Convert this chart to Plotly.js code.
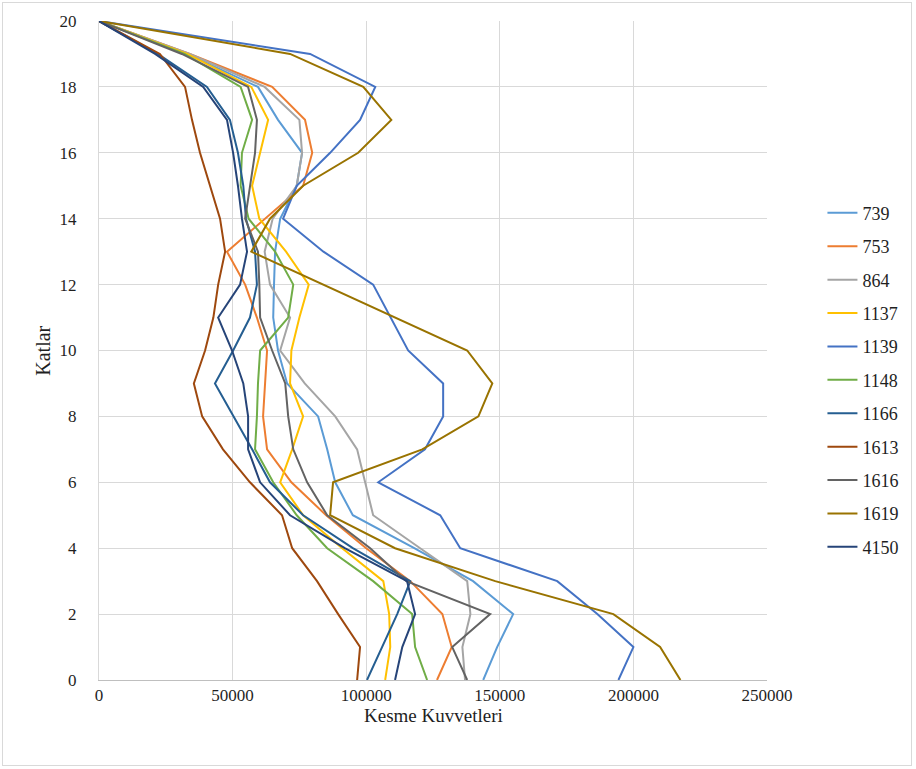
<!DOCTYPE html>
<html>
<head>
<meta charset="utf-8">
<script src="https://cdn.plot.ly/plotly-3.0.1.min.js"></script>
<style>
  html, body { margin: 0; padding: 0; background: #fff; }
  #wrap { position: relative; width: 916px; height: 769px; }
  #chart { width: 916px; height: 769px; }
  #frame { position: absolute; left: 2px; top: 2px; width: 908px; height: 762px; border: 1px solid #d9d9d9; pointer-events: none; }
</style>
</head>
<body>
<div id="wrap"><div id="chart"></div><div id="frame"></div></div>
<script>
// Floors (Katlar) 0..20
const floors = [0,1,2,3,4,5,6,7,8,9,10,11,12,13,14,15,16,17,18,19,20];

// Series names (legend)
const seriesNames = ["739","753","864","1137","1139","1148","1166","1613","1616","1619","4150"];

// Shear forces per floor (index = floor 0..20)
const s739  = [143800,149000,155000,140000,118000,95000,88400,85400,82000,70400,67000,65200,65500,65900,67800,74000,76000,67000,59500,33000,0];
const s753  = [126500,132000,128500,116500,100000,85000,72000,62900,61400,62200,62900,59100,54700,47900,62000,76400,79800,77100,64800,34000,0];
const s864  = [137000,136000,139000,137800,120200,102600,99600,96600,88400,77000,67800,71500,64000,62000,65000,74000,76000,75000,62000,34000,0];
const s1137 = [107100,109000,108600,106400,91000,76400,67800,72300,76400,71500,72000,75000,78500,70000,60000,57300,60300,63300,57000,33000,0];
const s1139 = [194400,200000,186500,171500,135200,127700,104500,122000,128800,128800,115700,109000,102600,84000,68900,74000,86500,97700,103400,79000,0];
const s1148 = [122800,118300,117200,102600,85400,74000,65200,58400,59100,59500,60300,70800,72700,65900,56000,53000,53500,57300,53000,32000,0];
const s1166 = [100300,106000,111600,116500,95000,76400,64000,57300,50500,43400,50200,56500,59100,58400,55000,54000,52000,49000,40400,22000,0];
const s1613 = [96600,97700,89500,81600,72300,68500,56500,46400,38600,35500,39700,42800,44600,47200,45300,41600,37800,34800,32200,22800,0];
const s1616 = [137800,132200,146400,115000,101500,85400,77900,72700,70800,69700,64800,60300,60000,59500,54700,56500,58400,59100,55800,31000,0];
const s1619 = [217600,210000,192500,148300,110800,86500,87600,121000,142000,147200,137800,110900,84000,57000,64000,76400,97000,109400,98900,71500,0];
const s4150 = [110800,113500,118300,115300,92000,71500,60300,55800,55800,54000,49800,44600,52800,55400,53500,52000,50200,47900,39000,21000,0];

const seriesValues = [s739,s753,s864,s1137,s1139,s1148,s1166,s1613,s1616,s1619,s4150];
const seriesColors = ["#5B9BD5","#ED7D31","#A5A5A5","#FFC000","#4472C4","#70AD47","#255E91","#9E480E","#636363","#997300","#264478"];

const xTicks = [0,50000,100000,150000,200000,250000];
const yTicks = [0,2,4,6,8,10,12,14,16,18,20];

const xTitle = "Kesme Kuvvetleri";
const yTitle = "Katlar";

const font = "Liberation Serif";

const traces = seriesNames.map((name, i) => ({
  type: "scatter",
  mode: "lines",
  name: name,
  legendgroup: "g" + i,
  x: seriesValues[i],
  y: floors,
  line: { color: seriesColors[i], width: 2 },
  hoverinfo: "x+y+name"
}));

const layout = {
  width: 916,
  height: 769,
  margin: { l: 99, r: 149, t: 21, b: 89 },
  paper_bgcolor: "#ffffff",
  plot_bgcolor: "#ffffff",
  font: { family: font, size: 18, color: "#1f1f1f" },
  showlegend: true,
  legend: {
    x: 1.083, xanchor: "left",
    y: 0.455, yanchor: "middle",
    traceorder: "grouped",
    tracegroupgap: 7,
    font: { family: font, size: 18, color: "#1f1f1f" },
    itemwidth: 30,
    bgcolor: "rgba(0,0,0,0)"
  },
  xaxis: {
    range: [0, 250000],
    tickvals: xTicks,
    tickformat: "d",
    showgrid: true,
    gridcolor: "#d9d9d9",
    gridwidth: 1,
    zeroline: false,
    showline: true,
    linecolor: "#bfbfbf",
    linewidth: 1,
    ticks: "",
    ticklabelstandoff: 0,
    tickfont: { family: font, size: 17, color: "#1f1f1f" }
  },
  yaxis: {
    range: [0, 20],
    tickvals: yTicks,
    showgrid: true,
    gridcolor: "#d9d9d9",
    gridwidth: 1,
    zeroline: false,
    showline: true,
    linecolor: "#d9d9d9",
    linewidth: 1,
    ticks: "",
    ticklabelstandoff: 18,
    tickfont: { family: font, size: 17, color: "#1f1f1f" }
  },
  annotations: [
    { xref: "paper", yref: "paper", x: 0.5, y: -0.054, xanchor: "center", yanchor: "middle",
      text: xTitle, showarrow: false, font: { family: font, size: 19, color: "#1f1f1f" } },
    { xref: "paper", yref: "paper", x: -0.085, y: 0.5, xanchor: "center", yanchor: "middle",
      text: yTitle, textangle: -90, showarrow: false, font: { family: font, size: 20, color: "#1f1f1f" } }
  ]
};

Plotly.newPlot("chart", traces, layout, { displayModeBar: false, staticPlot: true });
</script>
</body>
</html>
